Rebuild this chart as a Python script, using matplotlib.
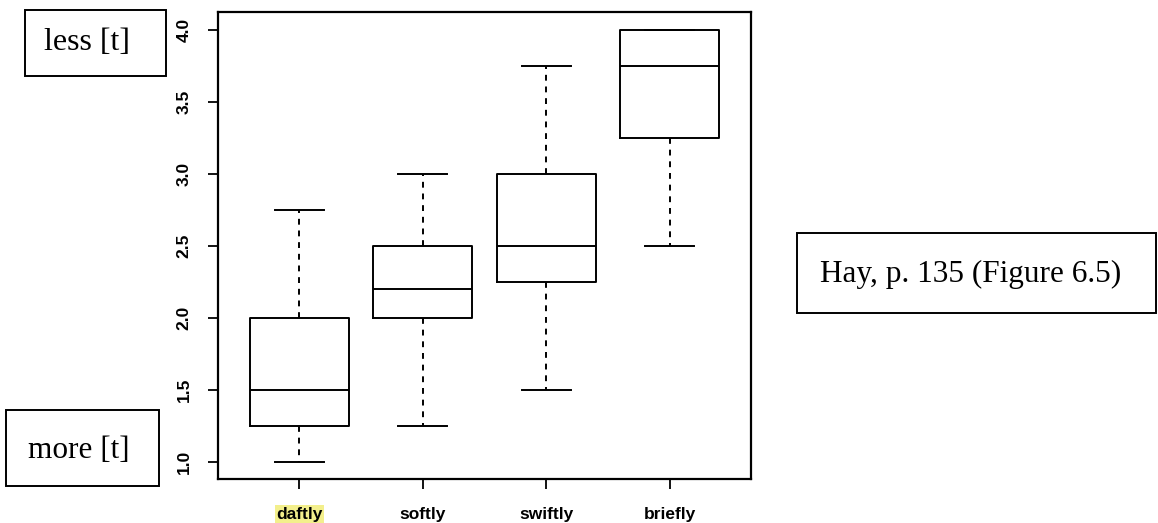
import matplotlib.pyplot as plt
from matplotlib.patches import Rectangle

# adverbs and their box summaries
labels = ['daftly', 'softly', 'swiftly', 'briefly']
whislo = [1.0, 1.25, 1.5, 2.5]
q1 = [1.25, 2.0, 2.25, 3.25]
med = [1.5, 2.2, 2.5, 3.75]
q3 = [2.0, 2.5, 3.0, 4.0]
whishi = [2.75, 3.0, 3.75, 4.0]

stats = [dict(label=l, whislo=a, q1=b, med=c, q3=d, whishi=e)
         for l, a, b, c, d, e in zip(labels, whislo, q1, med, q3, whishi)]

fig = plt.figure(figsize=(11.58, 5.23), dpi=100)
ax = fig.add_axes([218/1158, 1-479/523, (751-218)/1158, (479-12)/523])

lw = 1.4
ax.bxp(stats, positions=range(1, 5), widths=0.8, showfliers=False,
       boxprops=dict(color='black', linewidth=lw),
       medianprops=dict(color='black', linewidth=lw),
       whiskerprops=dict(color='black', linewidth=lw, linestyle=(0, (3, 3))),
       capprops=dict(color='black', linewidth=lw), capwidths=0.4)

ax.set_xlim(0.34, 4.66)
ax.set_ylim(0.88, 4.125)
ax.set_yticks([1.0, 1.5, 2.0, 2.5, 3.0, 3.5, 4.0])
ax.set_yticklabels(['1.0', '1.5', '2.0', '2.5', '3.0', '3.5', '4.0'],
                   rotation=90, va='center', fontsize=12.5, fontweight='bold',
                   family='Liberation Sans')
ax.set_xticks(range(1, 5))
ax.set_xticklabels(labels, fontsize=12.5, fontweight='bold', family='Liberation Sans')
ax.tick_params(length=7, width=1.3)
ax.tick_params(axis='y', pad=12)
ax.tick_params(axis='x', pad=13)
for s in ax.spines.values():
    s.set_linewidth(1.6)

# yellow highlight on the first label
ax.get_xticklabels()[0].set_bbox(dict(facecolor='#f3ef8c', edgecolor='none', pad=1))


def box_note(x0, y0, x1, y1, text, tx, ty, size, va='center'):
    fig.patches.append(Rectangle((x0/1158, 1-y1/523), (x1-x0)/1158, (y1-y0)/523,
                                 transform=fig.transFigure, fill=False,
                                 edgecolor='black', linewidth=1.4))
    fig.text(tx/1158, 1-ty/523, text, family='Liberation Serif', fontsize=size,
             ha='left', va=va)


box_note(25, 10, 166, 76, 'less [t]', 44, 43, 23)
box_note(6, 410, 159, 486, 'more [t]', 28, 450, 22.5)
box_note(797, 233, 1156, 313, 'Hay, p. 135 (Figure 6.5)', 820, 282, 22.5,
         va='baseline')

fig.savefig('out.png', dpi=100)
